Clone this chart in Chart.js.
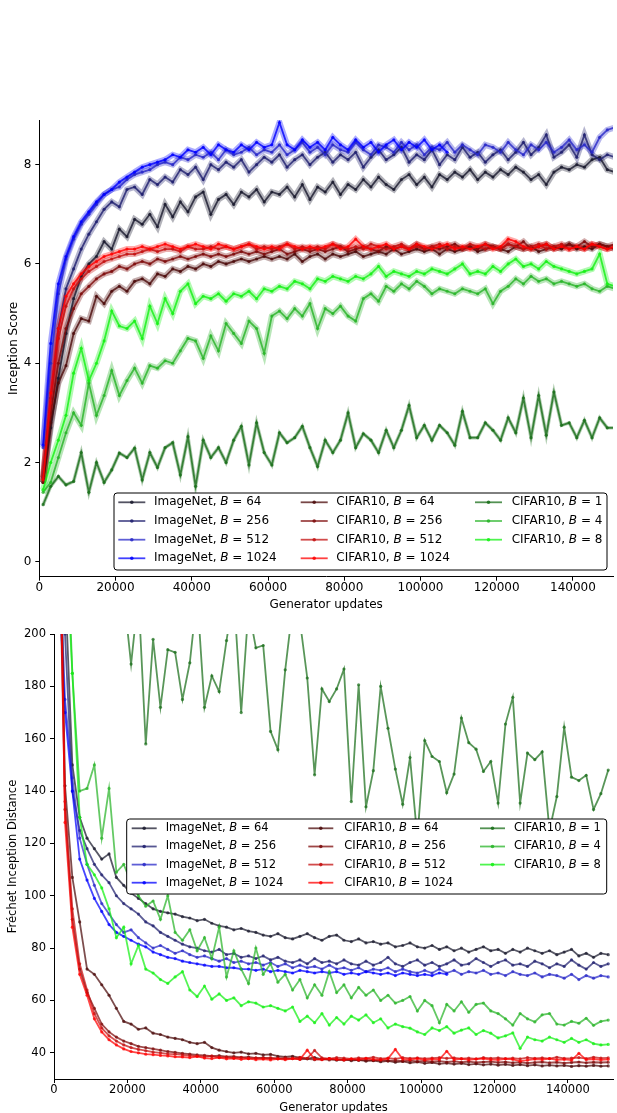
<!DOCTYPE html>
<html>
<head>
<meta charset="utf-8">
<script src="https://cdn.jsdelivr.net/npm/chart.js@4.4.0/dist/chart.umd.min.js"></script>
<style>
  html, body { margin: 0; padding: 0; background: #fff; overflow: hidden; }
  #isChart { position: absolute; left: 0; top: 0; }
  #fidChart { position: absolute; left: 0; top: 612px; }
</style>
</head>
<body>
<canvas id="isChart" width="617" height="612"></canvas>
<canvas id="fidChart" width="617" height="503"></canvas>
<script>
// evaluation steps (generator updates)
const updates = [1000,3000,5000,7000,9000,11000,13000,15000,17000,19000,
  21000,23000,25000,27000,29000,31000,33000,35000,37000,39000,
  41000,43000,45000,47000,49000,51000,53000,55000,57000,59000,
  61000,63000,65000,67000,69000,71000,73000,75000,77000,79000,
  81000,83000,85000,87000,89000,91000,93000,95000,97000,99000,
  101000,103000,105000,107000,109000,111000,113000,115000,117000,119000,
  121000,123000,125000,127000,129000,131000,133000,135000,137000,139000,
  141000,143000,145000,147000,149000,151000];

const xTicks = [0, 20000, 40000, 60000, 80000, 100000, 120000, 140000];
const isTicks = [0, 2, 4, 6, 8];
const fidTicks = [40, 60, 80, 100, 120, 140, 160, 180, 200];

const datasetNames = ['ImageNet','ImageNet','ImageNet','ImageNet','CIFAR10','CIFAR10','CIFAR10','CIFAR10','CIFAR10','CIFAR10','CIFAR10'];
const batchSizes = [64, 256, 512, 1024, 64, 256, 512, 1024, 1, 4, 8];

// Inception Score
const isIN64 = [1.6,2.7,3.7,4.6,5.3,5.75,6.0,6.15,6.45,6.3, 6.7,6.55,6.9,6.8,7.0,6.75,7.2,6.95,7.25,7.05, 7.35,7.45,7.0,7.3,7.4,7.2,7.45,7.35,7.5,7.25, 7.45,7.4,7.55,7.35,7.6,7.3,7.55,7.45,7.65,7.4, 7.6,7.5,7.7,7.55,7.75,7.6,7.5,7.7,7.8,7.6, 7.75,7.55,7.8,7.7,7.85,7.75,7.9,7.7,7.85,7.75, 7.9,7.8,7.95,7.85,7.7,7.8,7.6,7.85,7.95,7.9, 8.0,7.95,8.1,8.15,7.9,7.85];
const isIN256 = [1.7,3.3,4.7,5.5,5.9,6.3,6.6,6.85,7.1,7.25, 7.15,7.5,7.55,7.4,7.7,7.6,7.75,7.65,7.9,7.8, 7.95,7.7,8.0,7.9,8.05,7.95,8.1,7.85,8.0,8.15, 8.05,8.2,7.95,8.1,8.2,8.0,8.15,8.25,8.05,8.2, 8.1,8.25,7.95,8.15,8.3,8.1,8.2,8.35,8.05,8.2, 8.1,8.3,8.0,8.2,8.1,8.35,8.15,8.25,8.05,8.2, 8.3,8.1,8.25,8.45,8.2,8.35,8.6,8.15,8.25,8.4, 8.15,8.6,8.2,8.1,8.2,8.15];
const isIN512 = [2.3,4.0,5.4,6.1,6.5,6.8,7.0,7.2,7.4,7.5, 7.55,7.7,7.8,7.85,7.9,8.0,8.05,8.0,8.15,8.1, 8.2,8.15,8.25,8.1,8.3,8.2,8.25,8.35,8.2,8.3, 8.25,8.4,8.2,8.3,8.45,8.25,8.35,8.2,8.4,8.3, 8.25,8.45,8.3,8.2,8.4,8.35,8.25,8.45,8.3,8.4, 8.2,8.35,8.3,8.45,8.25,8.4,8.3,8.2,8.4,8.35, 8.25,8.45,8.3,8.2,8.4,8.3,8.45,8.25,8.35,8.5, 8.3,8.4,8.25,8.55,8.7,8.75];
const isIN1024 = [2.35,4.4,5.6,6.15,6.55,6.85,7.05,7.25,7.4,7.5, 7.65,7.75,7.85,7.95,8.0,8.05,8.1,8.2,8.15,8.3, 8.25,8.35,8.2,8.4,8.3,8.25,8.4,8.3,8.45,8.35, 8.4,8.85,8.4,8.3,8.5,8.35,8.45,8.3,8.55,8.4, 8.3,8.5,8.35,8.45,8.25,8.4,8.5,8.3,8.45,8.35, 8.5,8.3,8.4,8.25];
const isC64 = [1.6,2.8,3.6,3.95,4.6,4.9,4.85,5.35,5.2,5.45, 5.55,5.45,5.65,5.7,5.6,5.8,5.75,5.9,5.85,5.95, 5.9,6.0,5.95,6.05,6.0,6.05,6.1,6.05,6.1,6.15, 6.1,6.15,6.1,6.2,6.05,6.15,6.2,6.1,6.2,6.15, 6.2,6.25,6.15,6.2,6.25,6.2,6.3,6.2,6.25,6.3, 6.25,6.3,6.2,6.3,6.25,6.3,6.35,6.25,6.3,6.35, 6.3,6.25,6.35,6.3,6.35,6.25,6.3,6.35,6.3,6.4, 6.3,6.35,6.3,6.4,6.35,6.3];
const isC256 = [1.6,3.0,4.0,4.7,5.1,5.4,5.55,5.7,5.8,5.85, 5.95,5.9,6.0,6.05,6.0,6.1,6.05,6.1,6.15,6.1, 6.15,6.2,6.15,6.2,6.15,6.2,6.25,6.2,6.25,6.2, 6.25,6.3,6.2,6.25,6.3,6.25,6.3,6.25,6.3,6.35, 6.25,6.3,6.35,6.3,6.25,6.35,6.3,6.35,6.3,6.4, 6.3,6.35,6.3,6.35,6.4,6.3,6.35,6.3,6.4,6.35, 6.3,6.4,6.35,6.45,6.3,6.35,6.4,6.3,6.35,6.4, 6.35,6.45,6.35,6.4,6.35,6.4];
const isC512 = [1.7,3.2,4.5,5.15,5.5,5.7,5.85,5.95,6.05,6.1, 6.15,6.2,6.2,6.25,6.3,6.25,6.3,6.3,6.25,6.35, 6.3,6.3,6.35,6.3,6.35,6.3,6.35,6.4,6.3,6.35, 6.3,6.35,6.4,6.3,6.35,6.3,6.35,6.3,6.4,6.35, 6.3,6.35,6.3,6.4,6.35,6.3,6.35,6.4,6.3,6.35, 6.3,6.35,6.4,6.3,6.35,6.3,6.4,6.35,6.3,6.35, 6.3,6.4,6.35,6.3,6.35,6.4,6.3,6.35,6.4,6.3, 6.35,6.3,6.4,6.35,6.3,6.35];
const isC1024 = [1.65,3.4,4.7,5.35,5.6,5.8,5.95,6.05,6.15,6.2, 6.25,6.3,6.3,6.35,6.3,6.35,6.4,6.35,6.3,6.35, 6.4,6.35,6.3,6.4,6.35,6.3,6.35,6.4,6.35,6.3, 6.35,6.3,6.4,6.35,6.3,6.35,6.3,6.35,6.4,6.3, 6.35,6.5,6.35,6.3,6.35,6.4,6.3,6.35,6.3,6.4, 6.35,6.3,6.35,6.4,6.3,6.35,6.3,6.35,6.4,6.3, 6.35,6.5,6.45,6.35,6.3,6.35,6.4,6.3,6.35,6.3, 6.35,6.3,6.4,6.35,6.3,6.35];
const isC1 = [1.15,1.52,1.72,1.55,1.62,2.2,1.4,2.0,1.6,1.85, 2.19,2.1,2.29,1.65,2.2,1.9,2.3,2.4,1.75,2.52, 1.52,2.45,2.1,2.3,2.0,2.45,2.73,1.95,2.8,2.2, 1.95,2.6,2.4,2.5,2.73,2.3,1.92,2.45,2.2,2.45, 3.0,2.3,2.58,2.45,2.2,2.65,2.3,2.65,3.15,2.5, 2.75,2.45,2.75,2.6,2.35,3.03,2.5,2.5,2.8,2.65, 2.45,2.9,2.6,3.3,2.5,3.35,2.55,3.42,2.75,2.8, 2.5,2.85,2.5,2.9,2.7,2.7];
const isC4 = [1.4,1.6,2.1,2.6,3.0,2.75,3.6,2.95,3.35,3.85, 3.35,3.65,3.9,3.6,3.95,3.9,4.05,4.0,4.25,4.5, 4.45,4.1,4.55,4.25,4.8,4.6,4.4,4.85,4.7,4.2, 4.95,5.05,4.9,5.1,4.95,5.2,4.7,5.1,5.0,5.15, 4.95,4.85,5.3,5.4,5.25,5.55,5.45,5.6,5.5,5.65, 5.55,5.4,5.5,5.45,5.4,5.5,5.45,5.4,5.5,5.2, 5.45,5.55,5.7,5.6,5.75,5.65,5.7,5.6,5.65,5.6, 5.55,5.6,5.5,5.45,5.55,5.5];
const isC8 = [1.45,2.0,2.45,2.95,3.8,4.3,3.65,4.0,4.45,5.05, 4.75,4.7,4.85,4.5,5.15,4.8,5.3,5.0,5.45,5.6, 5.2,5.35,5.3,5.4,5.25,5.4,5.35,5.45,5.3,5.5, 5.45,5.55,5.5,5.65,5.6,5.5,5.7,5.65,5.75,5.7, 5.65,5.75,5.7,5.8,5.95,5.75,5.85,5.8,5.75,5.85, 5.8,5.9,5.85,5.8,5.9,6.0,5.8,5.85,5.8,5.95, 5.85,6.0,6.1,5.95,6.0,5.9,6.05,5.95,5.9,5.85, 5.8,5.85,5.9,6.2,5.6,5.55];

// Frechet Inception Distance
const fidIN64 = [300,220,150,130,122,118,114,116,107,104, 101,99,97,95,94,93.5,93,92,91.5,90.5, 91,89.5,88.5,88,87,87.5,86.5,86,85,84.5, 85.5,84,83.5,84.5,85.5,84,83,84.5,85,83, 82.5,83.5,82,82.5,81.5,82,80.5,81,82,80.5, 80,81,79.5,80.5,79,80,78.5,79.5,80.5,79, 79.5,78,79.5,78.5,80,79,78,79,77.5,78.5, 79.5,77,78,76.5,78,77.5];
const fidIN256 = [300,200,140,125,118,112,108,105,100,97, 95,93,90,88.5,86,84.5,83,81.5,80.5,80, 79,78.5,79.5,77.5,78,76.5,77,76,77,75.5, 76.5,75,74.5,75.5,74,76,74.5,75,74,75.5, 74,73.5,75,73.5,74.5,76.5,74,73,74.5,75.5, 73.5,74.5,73,74,75.5,73.5,74,76,74.5,73, 74.5,75.5,73.5,74,73,75,74,72.5,74,73, 75.5,73.5,72,74.5,73,74];
const fidIN512 = [250,175,145,122,112,104,97,93,89,86, 87,84,82,80,81,79.5,78,79,77.5,76.5, 77,76,75,76,74.5,75,74,74.5,73.5,74.5, 73,74,72.5,73.5,72.5,73,72,73.5,72,72.5, 71.5,72.5,71,72,71.5,72.5,71,72,71,70.5, 71.5,70.5,72,70.5,71.5,70,71,70.5,71.5,70, 70.5,69.5,71,70,69.5,70.5,69,70,69.5,68.5, 70,68,69.5,68.5,69.5,69];
const fidIN1024 = [230,170,140,114,106,99,94,89,86,84.5, 83,81.5,80.5,78.5,77.5,76.5,76,75,74.5,74, 73.5,73,73,72.5,72.5,72,72,71.5,72,71, 71.5,71,70.5,71.5,71,70.5,71,70.5,71,70, 70.5,70,71,70.5,70,70.5,69.5,70.5,70,69.5, 70,69.5,70.5,70];
const fidC64 = [300,142,107,90,72,70,66,62,57,52, 51,49,49.5,47.5,47,46,45.5,45,44,43.5, 44,42,41,40.5,40,40.3,39.6,39.8,39.2,39.4, 38.7,38.4,38.7,38.1,37.8,38.2,37.5,37.8,37.2,37.5, 37,37.3,36.8,37.1,36.6,36.9,36.4,36.7,36.2,36.5, 36,36.3,35.8,36.1,35.7,36,35.5,35.8,35.4,35.7, 35.3,35.6,35.2,35.5,35.1,35.4,35,35.3,35,35.2, 34.8,35.1,34.9,35.2,34.9,35];
const fidC256 = [270,133,91,72,63,57,51,48,46,44.5, 43.5,42.5,42,41.5,41,40.5,40.2,39.8,39.5,39.2, 39,38.7,38.9,38.5,38.6,38.2,38.4,38,38.2,37.8, 38,37.7,37.9,37.5,37.7,37.4,37.6,37.3,37.5,37.2, 37.4,37.1,37.3,37,37.2,36.9,37.1,36.8,37,36.7, 36.9,36.6,36.8,36.5,36.7,36.4,36.6,36.3,36.5,36.6, 36.3,36.5,36.2,36.4,36.1,36.3,36.5,36.2,36.4,36.1, 36.3,36.5,36.2,36.4,36.3,36.4];
const fidC512 = [280,136,95,74,64,55,49.5,46.5,44.5,43, 42,41.3,40.8,40.3,40,39.6,39.5,39.2,38.9,38.7, 38.5,38.8,38.2,38.4,38,38.3,37.8,38.1,37.9,38.2, 37.7,38,37.8,38.3,37.9,40.9,38.1,37.8,38.2,38, 37.7,38.1,37.9,38.3,37.8,38,37.7,38.2,37.9,38.1, 37.8,38,38.2,37.9,38.1,37.8,38,37.7,38.2,37.9, 38.1,37.8,38,37.7,38.2,37.9,38.1,37.8,38.3,37.9, 38,38.2,37.8,38.3,38,38.1];
const fidC1024 = [300,128,88,70,62,53,48,45,43,41.5, 40.5,40,39.5,39.3,39,38.8,38.5,38.4,38.2,38.6, 38,37.8,38.2,37.7,37.9,37.5,37.8,37.4,37.6,37.3, 37.7,37.4,37.8,37.5,41,37.6,37.4,37.8,37.5,37.3, 37.7,37.4,37.9,37.5,37.3,37.8,41.3,37.6,37.4,37.8, 37.3,37.6,37.5,40.6,37.4,37.7,37.3,37.6,37.8,37.4, 37.3,37.7,37.5,36.8,37.2,37.6,37.4,37.8,37.3,37.5, 37.2,39.8,37.4,37.6,37.3,37.5];
const fidC1 = [420,330,300,280,260,250,240,235,225,215, 188.5,215,158,198,172,194,193,175,189,215, 172,184,178,197.5,215,170,210,194.7,195.6,162.8, 155.8,186.3,210,205,183.2,146.2,179,174.2,179,186.6, 136,180.6,134,147.8,180,164,148.4,135,152.8,122, 159.3,153.2,151.3,139.4,146.5,167.9,158.5,156,147.5,151.3, 135.4,165.6,175.8,135.4,154.5,152,155,125,137.9,164.4, 145.3,144,146,133,139,148];
const fidC4 = [400,260,185,140,141,150,122,141,109,112, 105,100,96,98,91,100,86,83,87,79, 84,76,88,69,79,72,66.5,80,70,74, 67,70,64,68,61,66,62,71,63,66, 61,65,62,64,60,62,59,60,61.5,56, 60,58,51.5,58.5,56,59.5,55.5,58.5,59,56, 55,53,50.6,55,53,51.8,54.5,55,51,50.6, 52,51.3,53.2,50.5,52,52.5];
const fidC8 = [330,240,185,130,112,108,103,95,84,88, 74,81,72,70.5,68,66.5,69,71,64,61.5, 65.5,60.5,62.5,60,61,58,59.5,59,57.5,58, 57,56,57.5,52,54,51.5,55,50.6,53.5,51, 54,52.5,54.5,51.5,53,49.5,51,50,49.4,48, 47,49.5,48.5,50,47.5,48.7,49.5,47,48.5,47.5, 45.7,46.5,47.6,41.7,46,45,44.5,46,45,44, 45.5,44,45,43.5,43,43.2];

const isSeries = [isIN64, isIN256, isIN512, isIN1024, isC64, isC256, isC512, isC1024, isC1, isC4, isC8];
const fidSeries = [fidIN64, fidIN256, fidIN512, fidIN1024, fidC64, fidC256, fidC512, fidC1024, fidC1, fidC4, fidC8];

const colors = [[25,25,45],[30,30,110],[40,40,200],[0,0,255],
  [75,10,10],[125,10,10],[195,15,15],[255,0,0],
  [25,110,25],[40,180,40],[20,240,20]];
const rgba = (c, a) => `rgba(${c[0]},${c[1]},${c[2]},${a})`;

Chart.defaults.font.family = '"DejaVu Sans", sans-serif';
Chart.defaults.color = '#000';

function toPoints(vals) {
  return vals.map((v, i) => ({ x: updates[i], y: v }));
}

function makeDatasets(series, bandWidth, lineAlpha) {
  const out = [];
  series.forEach((vals, k) => {
    const c = colors[k];
    out.push({
      data: toPoints(vals),
      borderColor: rgba(c, lineAlpha),
      backgroundColor: rgba(c, lineAlpha),
      pointBackgroundColor: rgba(c, lineAlpha),
      borderWidth: 1.8,
      pointRadius: 1.6,
      pointBorderWidth: 0,
      order: 100 - k
    });
    if (bandWidth) {
      out.push({
        data: toPoints(vals),
        borderColor: rgba(c, 0.33),
        borderWidth: k === 8 ? 3.5 : bandWidth,
        pointRadius: 0,
        order: 200 - k
      });
    }
  });
  return out;
}

function boxLegend(cfg) {
  return {
    id: 'boxLegend',
    afterDraw(chart) {
      const ctx = chart.ctx;
      ctx.save();
      const r = 3;
      const { x, y, w, h } = cfg.box;
      ctx.beginPath();
      ctx.moveTo(x + r, y);
      ctx.arcTo(x + w, y, x + w, y + h, r);
      ctx.arcTo(x + w, y + h, x, y + h, r);
      ctx.arcTo(x, y + h, x, y, r);
      ctx.arcTo(x, y, x + w, y, r);
      ctx.closePath();
      ctx.fillStyle = '#fff';
      ctx.fill();
      ctx.strokeStyle = '#000';
      ctx.lineWidth = 1;
      ctx.stroke();
      ctx.textBaseline = 'middle';
      batchSizes.forEach((b, k) => {
        const col = k < 4 ? 0 : (k < 8 ? 1 : 2);
        const row = k < 4 ? k : (k < 8 ? k - 4 : k - 8);
        const ly = cfg.rows[row];
        const lx = cfg.lineX[col];
        const c = colors[k];
        ctx.strokeStyle = rgba(c, 0.75);
        ctx.lineWidth = 1.8;
        ctx.beginPath();
        ctx.moveTo(lx, ly);
        ctx.lineTo(lx + cfg.lineLen, ly);
        ctx.stroke();
        ctx.fillStyle = rgba(c, 0.85);
        ctx.beginPath();
        ctx.arc(lx + cfg.lineLen / 2, ly, 1.8, 0, Math.PI * 2);
        ctx.fill();
        let tx = cfg.textX[col];
        ctx.fillStyle = '#000';
        ctx.font = `${cfg.size}px "DejaVu Sans"`;
        const pre = datasetNames[k] + ', ';
        ctx.fillText(pre, tx, ly);
        tx += ctx.measureText(pre).width;
        ctx.font = `italic ${cfg.size}px "DejaVu Sans"`;
        ctx.fillText('B', tx, ly);
        tx += ctx.measureText('B').width;
        ctx.font = `${cfg.size}px "DejaVu Sans"`;
        ctx.fillText(' = ' + b, tx, ly);
      });
      ctx.restore();
    }
  };
}

function axes(o) {
  const common = {
    border: { display: true, color: '#000', width: 1 },
    grid: { drawOnChartArea: false, drawTicks: true, tickLength: 4, color: '#000' }
  };
  return {
    x: {
      type: 'linear', min: 0, max: o.xMax,
      afterBuildTicks: s => { s.ticks = xTicks.map(v => ({ value: v })); },
      afterFit: s => { s.height = o.xHeight; },
      ticks: { padding: 0, maxRotation: 0, autoSkip: false, font: { size: o.size }, callback: v => String(v) },
      title: { display: true, text: 'Generator updates', font: { size: o.size }, padding: { top: 0, bottom: 0 } },
      ...common
    },
    y: {
      type: 'linear', min: o.yMin, max: o.yMax,
      afterBuildTicks: s => { s.ticks = o.yTicks.map(v => ({ value: v })); },
      afterFit: s => { s.width = o.yWidth; },
      ticks: { padding: 4, autoSkip: false, font: { size: o.size }, callback: v => String(v) },
      title: { display: true, text: o.yTitle, font: { size: o.size }, padding: { top: o.titlePad, bottom: 0 } },
      ...common
    }
  };
}

new Chart(document.getElementById('isChart'), {
  type: 'line',
  data: { datasets: makeDatasets(isSeries, 6, 0.8) },
  options: {
    responsive: false, animation: false, devicePixelRatio: 1, events: [],
    layout: { padding: { top: 120, right: 2.5, left: 0, bottom: 0 } },
    plugins: { legend: { display: false }, tooltip: { enabled: false } },
    scales: axes({ xMax: 150500, xHeight: 35.3, yMin: -0.3, yMax: 8.9, yTicks: isTicks, yWidth: 39.3,
      yTitle: 'Inception Score', titlePad: 6.3, size: 12 })
  },
  plugins: [boxLegend({
    box: { x: 114, y: 493, w: 493, h: 77 },
    rows: [502.3, 521, 539.7, 558.3],
    lineX: [118.3, 300.7, 475], lineLen: 27,
    textX: [154, 336.3, 511.7], size: 12
  })]
});

new Chart(document.getElementById('fidChart'), {
  type: 'line',
  data: { datasets: makeDatasets(fidSeries, 0, 0.72) },
  options: {
    responsive: false, animation: false, devicePixelRatio: 1, events: [],
    layout: { padding: { top: 22, right: 3, left: 0, bottom: 0 } },
    plugins: { legend: { display: false }, tooltip: { enabled: false } },
    scales: axes({ xMax: 152300, xHeight: 36, yMin: 30, yMax: 200, yTicks: fidTicks, yWidth: 54,
      yTitle: 'Fréchet Inception Distance', titlePad: 6.1, size: 11.5 })
  },
  plugins: [boxLegend({
    box: { x: 126.7, y: 207, w: 480, h: 75 },
    rows: [216.3, 234.5, 252.6, 270.7],
    lineX: [131.7, 308.3, 480], lineLen: 25,
    textX: [165.7, 344.3, 514], size: 11.5
  })]
});
</script>
</body>
</html>
